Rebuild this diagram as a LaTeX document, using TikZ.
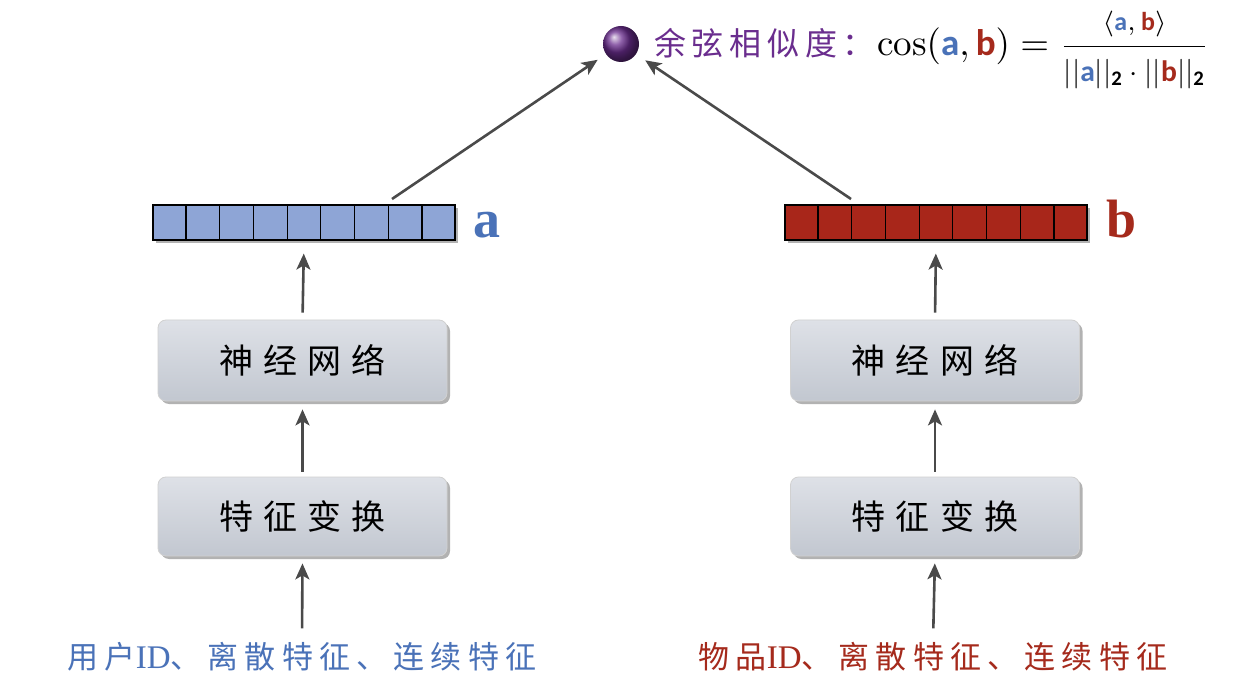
\documentclass[tikz,border=0pt]{standalone}
\usepackage{amsmath}
\usepackage{graphicx}
\usepackage{fontspec}
\usetikzlibrary{arrows.meta,shadows,calc}
\newfontfamily\cjkbox[LetterSpace=30]{Noto Sans CJK SC}
\newfontfamily\cjkin[LetterSpace=20]{Noto Sans CJK SC}
\newfontfamily\cjktitle[LetterSpace=18]{Noto Sans CJK SC}
\newfontfamily\carl{Carlito}
\newfontfamily\lserif{Liberation Serif}
\definecolor{vecblue}{HTML}{8EA5D6}
\definecolor{txtblue}{HTML}{4A72B8}
\definecolor{vecred}{HTML}{A8261A}
\definecolor{txtred}{HTML}{A52A1C}
\definecolor{purp}{HTML}{6A2D8E}
\definecolor{arrowgray}{HTML}{4A4A4A}
\definecolor{boxtop}{HTML}{DEE1E7}
\definecolor{boxbot}{HTML}{C2C7D0}
\newcommand{\va}{\text{\carl\bfseries\color{txtblue}a}}
\newcommand{\vb}{\text{\carl\bfseries\color{txtred}b}}
\newcommand{\two}{\text{\carl\bfseries 2}}
\tikzset{
  procbox/.style={rounded corners=8pt, draw=black!18, line width=0.8pt,
    top color=boxtop, bottom color=boxbot,
    drop shadow={shadow xshift=3pt, shadow yshift=-3pt, opacity=0.3, fill=black},
    minimum width=289pt, font=\cjkbox\fontsize{34}{34}\selectfont},
  vecbox/.style={draw=black, line width=1.2pt, minimum width=302pt, minimum height=35pt,
    inner sep=0pt, drop shadow={shadow xshift=3pt, shadow yshift=-3pt, opacity=0.3, fill=black}},
  arr/.style={draw=arrowgray, line width=2.6pt, -{Stealth[length=16pt,width=14pt,inset=4pt]}},
  veclabel/.style={anchor=base west, font=\lserif\bfseries\fontsize{54}{54}\selectfont},
  intext/.style={font=\cjkin\fontsize{31}{31}\selectfont, inner sep=0pt}
}
\begin{document}
\begin{tikzpicture}[x=1pt,y=-1pt]
\useasboundingbox (0,0) rectangle (1242,692);
\fill[white] (0,0) rectangle (1242,692);

% left column
\node[intext, text=txtblue] (inL) at (302,657) {用户{\lserif\fontsize{33}{33}\selectfont ID}、离散特征、连续特征};
\node[procbox, minimum height=79pt] (ftL) at (302.5,516.5) {特征变换};
\node[procbox, minimum height=81pt] (nnL) at (302.5,360.5) {神经网络};
\node[vecbox, fill=vecblue] (vecA) at (304,222.5) {};
\foreach \i in {1,...,8}
  \draw[line width=1.2pt] ($(vecA.south west)!\i/9!(vecA.south east)$) -- ($(vecA.north west)!\i/9!(vecA.north east)$);
\node[veclabel, text=txtblue] (la) at (470,238) {a};

% right column
\node[intext, text=txtred] (inR) at (933,657) {物品{\lserif\fontsize{33}{33}\selectfont ID}、离散特征、连续特征};
\node[procbox, minimum height=79pt] (ftR) at (935,516.5) {特征变换};
\node[procbox, minimum height=81pt] (nnR) at (935,360.5) {神经网络};
\node[vecbox, fill=vecred] (vecB) at (936,222.5) {};
\foreach \i in {1,...,8}
  \draw[line width=1.2pt] ($(vecB.south west)!\i/9!(vecB.south east)$) -- ($(vecB.north west)!\i/9!(vecB.north east)$);
\node[veclabel, text=txtred] (lb) at (1103,238) {b};

% top
\node[circle, minimum size=36pt, inner sep=0pt, shading=ball, ball color=purp] (ball) at (621,44) {};
\node[anchor=west, text=purp, font=\cjktitle\fontsize{32}{32}\selectfont, inner sep=0pt] (title) at (654,43) {余弦相似度：};
\node[anchor=base west, inner sep=0pt] (formula) at (877,56)
  {\scalebox{3.7}{$\displaystyle\cos(\va,\vb) = \frac{\scriptstyle\langle\va,\,\vb\rangle}{\scalebox{0.8}{$\textstyle\lvert\lvert\va\rvert\rvert_{\two}\cdot\lvert\lvert\vb\rvert\rvert_{\two}$}}$}};

\coordinate (aOut) at (392,199);
\coordinate (bOut) at (851,199);

% arrows
\draw[arr, shorten <=14pt, shorten >=7pt] (inL.north) -- (ftL.south);
\draw[arr, shorten <=5pt, shorten >=8pt] (ftL.north) -- (nnL.south);
\draw[arr, shorten <=7pt, shorten >=13pt] (nnL.north) -- (vecA.south);
\draw[arr, shorten >=10pt] (aOut) -- (ball);
\draw[arr, shorten <=14pt, shorten >=7pt] (inR.north) -- (ftR.south);
\draw[arr, shorten <=5pt, shorten >=8pt] (ftR.north) -- (nnR.south);
\draw[arr, shorten <=7pt, shorten >=13pt] (nnR.north) -- (vecB.south);
\draw[arr, shorten >=11pt] (bOut) -- (ball);
\end{tikzpicture}
\end{document}
